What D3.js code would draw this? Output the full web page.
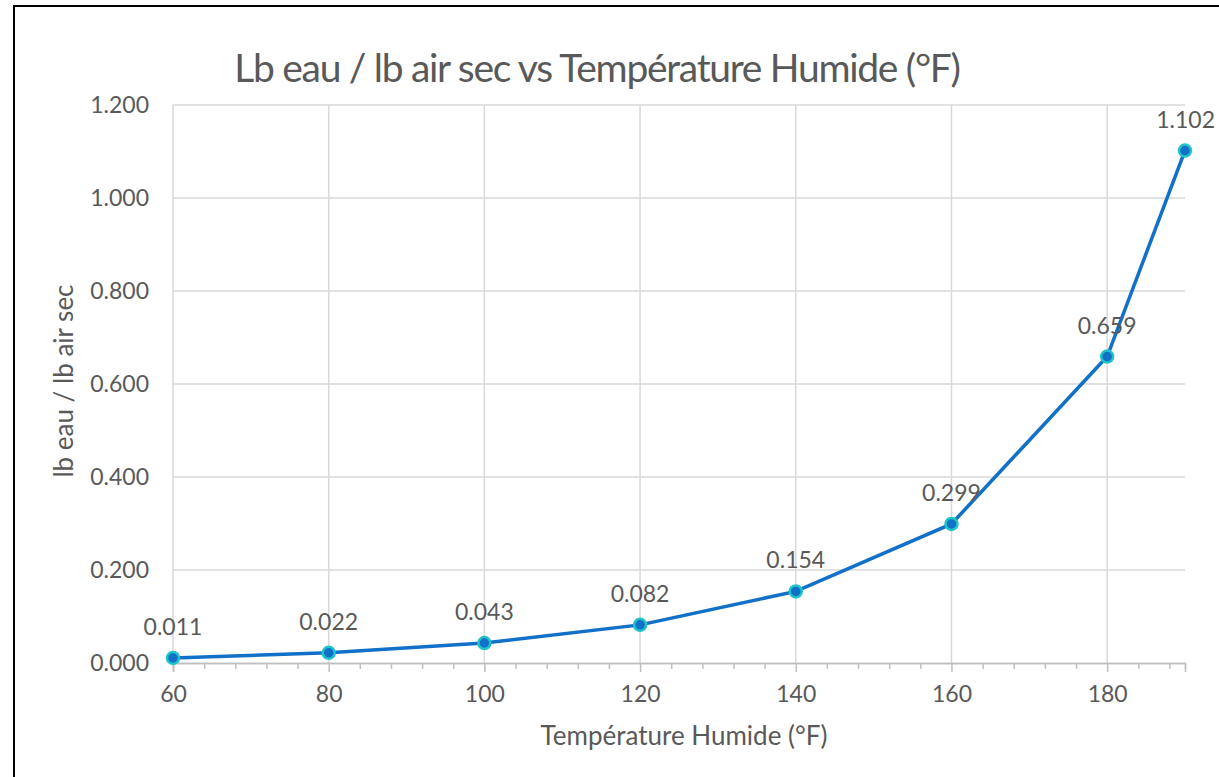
<!DOCTYPE html>
<html><head><meta charset="utf-8">
<script src="https://cdn.jsdelivr.net/npm/d3@7"></script>
<style>body{margin:0;background:#fff}svg{display:block}text{font-family:Lato,"DejaVu Sans",sans-serif}</style>
</head><body>
<svg id="c" width="1219" height="777"></svg>
<script>
const temps = [60, 80, 100, 120, 140, 160, 180, 190];
const ratios = [0.011, 0.022, 0.043, 0.082, 0.154, 0.299, 0.659, 1.102];
const xTicks = [60, 80, 100, 120, 140, 160, 180];
const yTicks = [0, 0.2, 0.4, 0.6, 0.8, 1.0, 1.2];
const title = "Lb eau / lb air sec vs Température Humide (°F)";
const xTitle = "Température Humide (°F)";
const yTitle = "lb eau / lb air sec";

const svg = d3.select("#c");
const L = 173, R = 1185, T = 105, B = 663;
const x = d3.scaleLinear().domain([60, 190]).range([L, R]);
const y = d3.scaleLinear().domain([0, 1.2]).range([B, T]);
const data = temps.map((t, i) => ({t, v: ratios[i]}));
const grey = "#595959";

svg.append("rect").attr("x", 14).attr("y", 6).attr("width", 1240).attr("height", 800)
  .attr("fill", "#fff").attr("stroke", "#000").attr("stroke-width", 2);

// gridlines
svg.append("g").selectAll("line").data(yTicks.slice(1)).join("line")
  .attr("x1", L).attr("x2", R).attr("y1", d => y(d)).attr("y2", d => y(d))
  .attr("stroke", "#d9d9d9").attr("stroke-width", 1.5);
svg.append("g").selectAll("line").data(xTicks).join("line")
  .attr("x1", d => x(d)).attr("x2", d => x(d)).attr("y1", T).attr("y2", B)
  .attr("stroke", "#d9d9d9").attr("stroke-width", 1.5);

// x axis minor ticks
const minor = d3.range(60, 191, 4).filter(d => d % 20 !== 0);
const xAxisG = svg.append("g").attr("transform", `translate(0,${B})`);
xAxisG.call(d3.axisBottom(x).tickValues(minor).tickSize(6).tickFormat(""));
xAxisG.call(g => g.selectAll(".tick line").attr("stroke", "#bfbfbf").attr("stroke-width", 1.5));
const xMaj = svg.append("g").attr("transform", `translate(0,${B})`)
  .call(d3.axisBottom(x).tickValues(xTicks).tickSize(9).tickPadding(14).tickFormat(d3.format("d")));
xMaj.select(".domain").attr("stroke", "#bfbfbf").attr("stroke-width", 1.5);
xAxisG.select(".domain").attr("stroke", "#bfbfbf").attr("stroke-width", 1.5);
xMaj.selectAll(".tick line").attr("stroke", "#bfbfbf").attr("stroke-width", 1.5);
xMaj.selectAll(".tick text").attr("fill", grey).attr("font-size", 23);

const yAx = svg.append("g").attr("transform", `translate(${L},0)`)
  .call(d3.axisLeft(y).tickValues(yTicks).tickSize(0).tickPadding(24).tickFormat(d3.format(".3f")));
yAx.select(".domain").remove();
yAx.selectAll(".tick text").attr("fill", grey).attr("font-size", 23);

// line
svg.append("path").datum(data)
  .attr("d", d3.line().x(d => x(d.t)).y(d => y(d.v)))
  .attr("fill", "none").attr("stroke", "#1170c8").attr("stroke-width", 3.5);
svg.append("g").selectAll("circle").data(data).join("circle")
  .attr("cx", d => x(d.t)).attr("cy", d => y(d.v)).attr("r", 6)
  .attr("fill", "#1170c8").attr("stroke", "#20c4c8").attr("stroke-width", 2.5);
svg.append("g").selectAll("text").data(data).join("text")
  .attr("x", d => x(d.t)).attr("y", d => y(d.v) - 23)
  .attr("text-anchor", d => d.t === 190 ? "end" : "middle")
  .attr("dx", d => d.t === 190 ? 30 : 0)
  .attr("fill", grey).attr("font-size", 23)
  .text(d => d3.format(".3f")(d.v));

svg.append("text").attr("x", 597).attr("y", 82).attr("text-anchor", "middle")
  .attr("fill", grey).attr("font-size", 39).attr("letter-spacing", -1.3).text(title);
svg.append("text").attr("x", 684).attr("y", 745).attr("text-anchor", "middle")
  .attr("fill", grey).attr("font-size", 26).text(xTitle);
svg.append("text").attr("transform", "translate(73,381) rotate(-90)").attr("text-anchor", "middle")
  .attr("fill", grey).attr("font-size", 26).text(yTitle);
</script>
</body></html>
